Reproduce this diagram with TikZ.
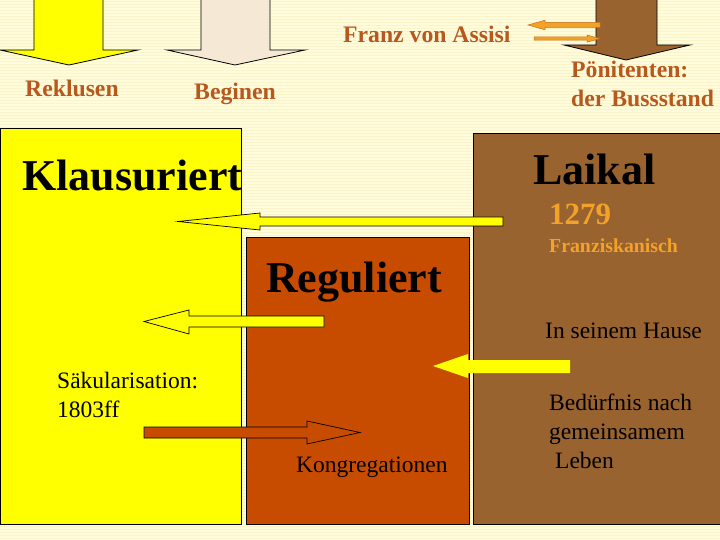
\documentclass[tikz,border=0pt]{standalone}
\usepackage{fontspec}
\setmainfont{Liberation Serif}
\definecolor{bgc}{RGB}{255,252,220}
\definecolor{stripec}{RGB}{251,244,202}
\definecolor{yel}{RGB}{255,255,0}
\definecolor{regc}{RGB}{200,76,0}
\definecolor{laic}{RGB}{153,99,48}
\definecolor{beig}{RGB}{245,232,212}
\definecolor{lbl}{RGB}{183,88,30}
\definecolor{orng}{RGB}{242,162,40}
\definecolor{orngd}{RGB}{200,110,20}
\tikzset{
  outl/.style={draw=black,line width=0.8pt,line join=miter},
  lab/.style={anchor=base west,inner sep=0pt,text=lbl,font=\fontsize{23.7}{26}\selectfont\bfseries},
  big/.style={anchor=base west,inner sep=0pt,text=black,font=\fontsize{44}{48}\selectfont\bfseries},
  plain/.style={anchor=base west,inner sep=0pt,text=black,font=\fontsize{23.5}{26}\selectfont},
  orlab/.style={anchor=base west,inner sep=0pt,text=orng,font=\bfseries},
}
\begin{document}
\begin{tikzpicture}[x=1pt,y=-1pt]
\useasboundingbox (0,0) rectangle (720,540);
% background
\fill[bgc] (0,0) rectangle (720,540);
\foreach \i in {1,4,...,538} \fill[stripec] (0,\i) rectangle (720,\i+1.2);
% top block arrows
\draw[outl,fill=yel] (34,-2) -- (103,-2) -- (103,50) -- (138,50) -- (69,65) -- (0,50) -- (34,50) -- cycle;
\draw[outl,fill=beig] (201,-2) -- (270,-2) -- (270,50) -- (305,50) -- (235,65) -- (167,50) -- (201,50) -- cycle;
\draw[outl,fill=laic] (596,-2) -- (657,-2) -- (657,45) -- (690,45) -- (626,60) -- (564,45) -- (596,45) -- cycle;
% Franz arrows
\draw[draw=orngd,line width=0.5pt,fill=orng] (600,22.3) -- (545,22.3) -- (545,20.2) -- (528,25) -- (545,29.8) -- (545,27.5) -- (600,27.5) -- cycle;
\draw[draw=orngd,line width=0.5pt,fill=orng] (534,37) -- (587,37) -- (587,35) -- (600,38.6) -- (587,42.2) -- (587,40.2) -- (534,40.2) -- cycle;
% labels top
\node[lab] (rek) at (25,97) {Reklusen};
\node[lab] (beg) at (194,100) {Beginen};
\node[lab] (franz) at (343,43) {Franz von Assisi};
\node[lab] (poen) at (571,78) {Pönitenten:};
\node[lab] (buss) at (571,107) {der Bussstand};
% main boxes
\draw[outl,fill=yel] (0.6,128) rectangle (241,524);
\draw[outl,fill=regc] (246,237) rectangle (469,524);
\draw[outl,fill=laic] (473,133) rectangle (725,524);
% middle arrows
\draw[outl,line width=0.7pt,fill=yel] (503,217) -- (260,217) -- (260,213) -- (178,221.5) -- (260,230) -- (260,226) -- (503,226) -- cycle;
\draw[outl,line width=0.7pt,fill=yel] (324,316) -- (189,316) -- (189,310) -- (144,321.5) -- (189,334) -- (189,327) -- (324,327) -- cycle;
\draw[outl,line width=0.7pt,fill=regc] (144,427) -- (307,427) -- (307,421) -- (360,432.5) -- (307,444) -- (307,438) -- (144,438) -- cycle;
\fill[yel] (570,360) -- (468,360) -- (468,354) -- (433,366) -- (468,378) -- (468,373) -- (570,373) -- cycle;
% texts
\node[big] (kla) at (22,191) {Klausuriert};
\node[big] (lai) at (533,185) {Laikal};
\node[big] (reg) at (266,292) {Reguliert};
\node[orlab,font=\fontsize{31}{34}\selectfont\bfseries] (y1279) at (549,225) {1279};
\node[orlab,font=\fontsize{19.8}{22}\selectfont\bfseries] (fran) at (549,252) {Franziskanisch};
\node[plain] (haus) at (545,338) {In seinem Hause};
\node[plain] (saek) at (57,388) {Säkularisation:};
\node[plain] (y1803) at (57,417) {1803ff};
\node[plain] (bed1) at (549,410) {Bedürfnis nach};
\node[plain] (bed2) at (549,439) {gemeinsamem};
\node[plain] (bed3) at (555,468) {Leben};
\node[plain] (kon) at (296,472) {Kongregationen};
\end{tikzpicture}
\end{document}
